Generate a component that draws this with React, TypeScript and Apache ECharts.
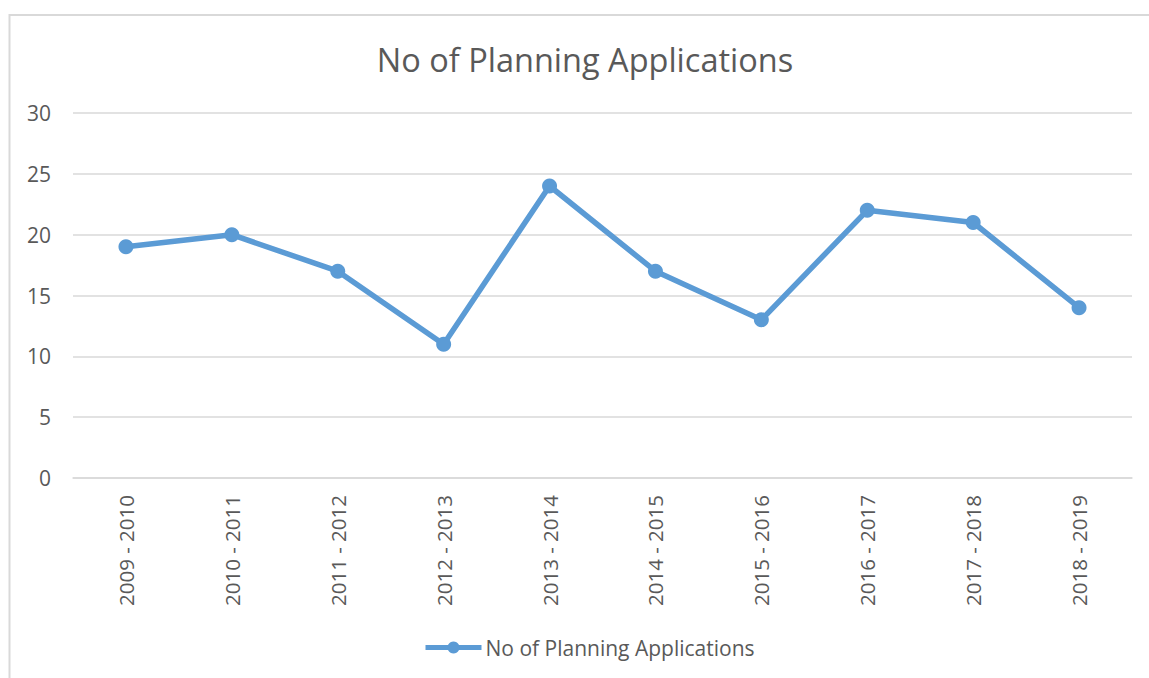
import React, { useEffect, useRef } from "react";
import * as echarts from "echarts";

const titleText = "No of Planning Applications";
const seriesName = "No of Planning Applications";
const categories = [
  "2009 - 2010",
  "2010 - 2011",
  "2011 - 2012",
  "2012 - 2013",
  "2013 - 2014",
  "2014 - 2015",
  "2015 - 2016",
  "2016 - 2017",
  "2017 - 2018",
  "2018 - 2019",
];
const values = [19, 20, 17, 11, 24, 17, 13, 22, 21, 14];
const yTicks = { min: 0, max: 30, interval: 5 };

const FONT = "'Open Sans', 'Noto Sans', sans-serif";
const TEXT = "#595959";
const GRID = "#d9d9d9";
const BLUE = "#5b9bd5";

export default function App() {
  const ref = useRef<HTMLDivElement>(null);
  useEffect(() => {
    document.body.style.margin = "0";
    const chart = echarts.init(ref.current!, null, { renderer: "svg" });
    chart.setOption({
      animation: false,
      backgroundColor: "#ffffff",
      textStyle: { fontFamily: FONT },
      graphic: [
        {
          type: "rect",
          shape: { x: 9.5, y: 15, width: 1300, height: 800 },
          style: { fill: "none", stroke: GRID, lineWidth: 2 },
          silent: true,
        },
      ],
      title: {
        text: titleText,
        left: 580,
        textAlign: "center",
        top: 38,
        textStyle: { fontFamily: FONT, fontSize: 32.5, fontWeight: "normal", color: TEXT },
      },
      grid: { left: 73, right: 17, top: 113, bottom: 200, containLabel: false },
      xAxis: {
        type: "category",
        data: categories,
        boundaryGap: true,
        axisLine: { show: true, lineStyle: { color: GRID, width: 1.5 } },
        axisTick: { show: false },
        axisLabel: {
          rotate: 90,
          color: TEXT,
          fontFamily: FONT,
          fontSize: 20.5,
          margin: 17,
          interval: 0,
        },
      },
      yAxis: {
        type: "value",
        min: yTicks.min,
        max: yTicks.max,
        interval: yTicks.interval,
        axisLine: { show: false },
        axisTick: { show: false },
        splitLine: { lineStyle: { color: GRID, width: 1.5 } },
        axisLabel: { color: TEXT, fontFamily: FONT, fontSize: 21, margin: 22 },
      },
      legend: {
        top: 632,
        left: 418,
        itemWidth: 56,
        itemHeight: 15,
        itemGap: 4,
        lineStyle: { width: 5 },
        textStyle: { color: TEXT, fontFamily: FONT, fontSize: 21, padding: [0, 0, 0, -1] },
        data: [seriesName],
      },
      series: [
        {
          name: seriesName,
          type: "line",
          data: values,
          symbol: "circle",
          symbolSize: 15,
          lineStyle: { color: BLUE, width: 5.5 },
          itemStyle: { color: BLUE },
        },
      ],
    });
    return () => chart.dispose();
  }, []);
  return <div ref={ref} style={{ width: 1149, height: 678 }} />;
}
